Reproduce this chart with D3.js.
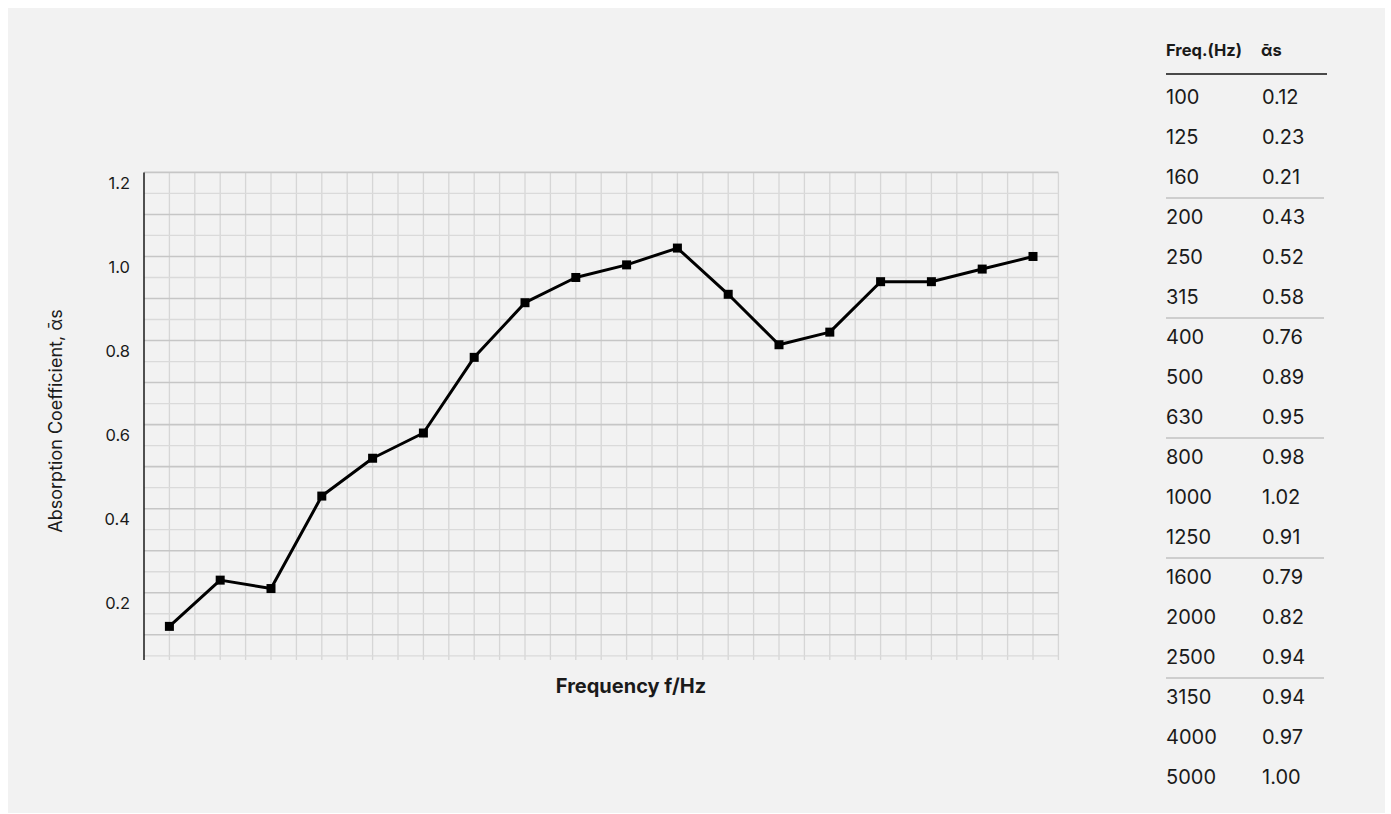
<!DOCTYPE html>
<html>
<head>
<meta charset="utf-8">
<script src="https://cdn.jsdelivr.net/npm/d3@7"></script>
<style>
  html, body { margin: 0; padding: 0; background: #ffffff; }
  svg { display: block; }
  text { font-family: Inter, "Noto Sans", "DejaVu Sans", sans-serif; fill: #1a1a1a; }
</style>
</head>
<body>
<script>
// ---- data ----
const frequencies = ["100","125","160","200","250","315","400","500","630","800","1000","1250","1600","2000","2500","3150","4000","5000"];
const absorption  = [0.12,0.23,0.21,0.43,0.52,0.58,0.76,0.89,0.95,0.98,1.02,0.91,0.79,0.82,0.94,0.94,0.97,1.00];
const absorptionLabels = ["0.12","0.23","0.21","0.43","0.52","0.58","0.76","0.89","0.95","0.98","1.02","0.91","0.79","0.82","0.94","0.94","0.97","1.00"];
const yTicks = [0.2,0.4,0.6,0.8,1.0,1.2];
const yTickLabels = ["0.2","0.4","0.6","0.8","1.0","1.2"];
const yTitle = "Absorption Coefficient, \u1FB1s";
const xTitle = "Frequency f/Hz";
const tableHeaders = ["Freq.(Hz)", "\u1FB1s"];

// ---- layout ----
const W = 1391, H = 814;
const svg = d3.select("body").append("svg").attr("width", W).attr("height", H);

svg.append("rect").attr("x", 8).attr("y", 8).attr("width", 1377).attr("height", H - 9).attr("fill", "#f2f2f2");

const plotLeft = 144, plotRight = 1058.4, plotTop = 172.4, plotBottom = 660;

const x = d3.scaleBand().domain(frequencies).range([plotLeft, plotRight]).padding(0);
const y = d3.scaleLinear().domain([0.04, 1.2]).range([plotBottom, plotTop]);

// vertical grid lines: band edges and centres
const vLines = [];
frequencies.forEach(f => { vLines.push(x(f)); vLines.push(x(f) + x.bandwidth() / 2); });
vLines.push(plotRight);
svg.append("g").selectAll("line").data(vLines.filter(v => v > plotLeft + 1)).join("line")
  .attr("x1", d => d).attr("x2", d => d)
  .attr("y1", plotTop).attr("y2", plotBottom)
  .attr("stroke", "#d6d6d6").attr("stroke-width", 1.3);

// horizontal grid lines every 0.05, darker every 0.1
const hVals = d3.range(24).map(i => +(1.2 - i * 0.05).toFixed(2));
svg.append("g").selectAll("line").data(hVals).join("line")
  .attr("x1", plotLeft).attr("x2", plotRight)
  .attr("y1", d => y(d)).attr("y2", d => y(d))
  .attr("stroke", (d, i) => (i % 2 === 0 ? "#c6c6c6" : "#dadada"))
  .attr("stroke-width", (d, i) => (i % 2 === 0 ? 1.6 : 1.3));

// left axis line
svg.append("line").attr("x1", plotLeft).attr("x2", plotLeft).attr("y1", plotTop).attr("y2", plotBottom)
  .attr("stroke", "#1a1a1a").attr("stroke-width", 1.5);

// y tick labels
svg.append("g").selectAll("text").data(yTicks).join("text")
  .attr("x", 130).attr("y", d => y(d) + 16.5)
  .attr("text-anchor", "end").attr("font-size", 16.5)
  .text((d, i) => yTickLabels[i]);

// titles
svg.append("text").attr("transform", "translate(61.5,421) rotate(-90)")
  .attr("text-anchor", "middle").attr("font-size", 18).text(yTitle);
svg.append("text").attr("x", 631).attr("y", 693).attr("text-anchor", "middle")
  .attr("font-size", 20).attr("font-weight", 700).text(xTitle);

// series line + markers
const pts = frequencies.map((f, i) => [x(f) + x.bandwidth() / 2, y(absorption[i])]);
svg.append("path").datum(pts)
  .attr("d", d3.line())
  .attr("fill", "none").attr("stroke", "#000").attr("stroke-width", 3).attr("stroke-linejoin", "round");
svg.append("g").selectAll("rect").data(pts).join("rect")
  .attr("x", d => d[0] - 4.5).attr("y", d => d[1] - 4.5)
  .attr("width", 9).attr("height", 9).attr("fill", "#000");

// ---- table ----
const tx1 = 1166, tx2 = 1262, rowY0 = 103.5, rowH = 40;
svg.append("text").attr("x", tx1).attr("y", 56).attr("font-size", 16.5).attr("font-weight", 700).text(tableHeaders[0]);
svg.append("text").attr("x", tx2 - 1).attr("y", 56).attr("font-size", 16.5).attr("font-weight", 700).text(tableHeaders[1]);
svg.append("line").attr("x1", tx1).attr("x2", 1327).attr("y1", 74).attr("y2", 74)
  .attr("stroke", "#111").attr("stroke-width", 1.3);

const rows = svg.append("g").selectAll("g").data(frequencies).join("g");
rows.append("text").attr("x", tx1).attr("y", (d, i) => rowY0 + i * rowH).attr("font-size", 20).text(d => d);
rows.append("text").attr("x", tx2).attr("y", (d, i) => rowY0 + i * rowH).attr("font-size", 20).text((d, i) => absorptionLabels[i]);

const seps = d3.range(2, frequencies.length - 1, 3);
svg.append("g").selectAll("line").data(seps).join("line")
  .attr("x1", tx1).attr("x2", 1324)
  .attr("y1", i => rowY0 + i * rowH + 14.5).attr("y2", i => rowY0 + i * rowH + 14.5)
  .attr("stroke", "#c2c2c2").attr("stroke-width", 1.5);
</script>
</body>
</html>
